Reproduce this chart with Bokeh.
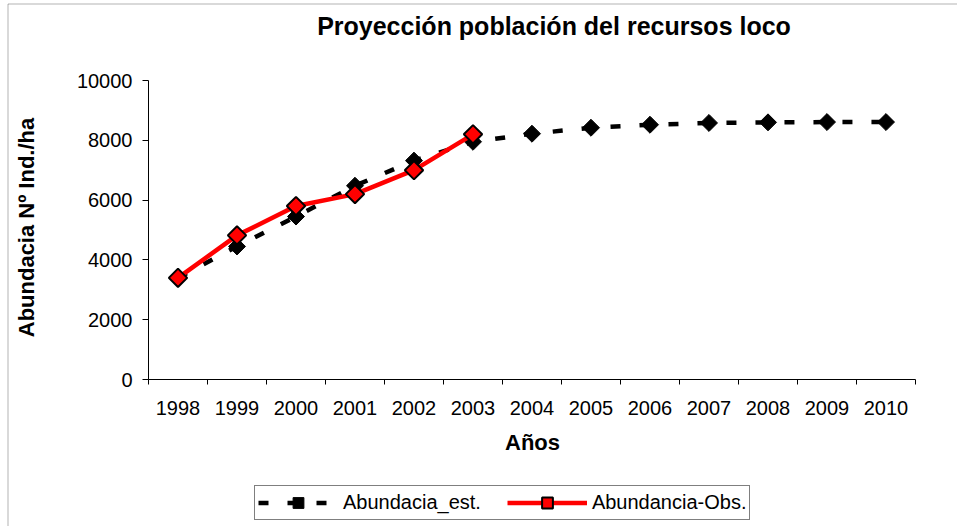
import numpy as np
from bokeh.plotting import figure
from bokeh.models import Range1d, FixedTicker, Legend, LegendItem, Label, BoxAnnotation
from bokeh.embed import file_html
from bokeh.resources import INLINE

# ---- data ----
years = [1998, 1999, 2000, 2001, 2002, 2003, 2004, 2005, 2006, 2007, 2008, 2009, 2010]
year_labels = ["1998", "1999", "2000", "2001", "2002", "2003", "2004",
               "2005", "2006", "2007", "2008", "2009", "2010"]
est_values = [3400, 4450, 5450, 6480, 7320, 7950, 8220, 8420, 8520, 8580, 8600, 8610, 8610]
obs_years = [1998, 1999, 2000, 2001, 2002, 2003]
obs_values = [3400, 4820, 5800, 6200, 7000, 8200]
y_ticks = [0, 2000, 4000, 6000, 8000, 10000]
title_text = "Proyección población del recursos loco"
x_title = "Años"
y_title = "Abundacia Nº Ind./ha"
est_name = "Abundacia_est."
obs_name = "Abundancia-Obs."

FONT = "Liberation Sans"
W, H = 957, 526
# plot-area placement in canvas pixels
PL, PR, PT, PB = 148, 915, 80, 379

X0, X1 = years[0] - 0.5, years[-1] + 0.5
Y0, Y1 = y_ticks[0], y_ticks[-1]
xs = (PR - PL) / (X1 - X0)
ys = (PB - PT) / (Y1 - Y0)
x_range = Range1d(X0 - PL / xs, X1 + (W - PR) / xs)
y_range = Range1d(Y0 - (H - PB) / ys, Y1 + PT / ys)


def px_x(px):
    return x_range.start + px / xs


def px_y(py):
    return y_range.end - py / ys


p = figure(width=W, height=H, output_backend="svg", toolbar_location=None,
           x_range=x_range, y_range=y_range, min_border=0,
           min_border_left=0, min_border_right=0, min_border_top=0, min_border_bottom=0)
p.outline_line_color = None
p.grid.visible = False
p.background_fill_color = "white"
p.border_fill_color = "white"

xa = p.below[0]
ya = p.left[0]

# x axis: labels at category centres, tick marks at boundaries
xa.fixed_location = Y0
xa.bounds = (X0, X1)
xa.ticker = FixedTicker(ticks=years, minor_ticks=[y - 0.5 for y in years] + [years[-1] + 0.5])
xa.major_label_overrides = {y: l for y, l in zip(years, year_labels)}
xa.major_tick_out = 0
xa.major_tick_in = 0
xa.minor_tick_out = 5
xa.minor_tick_in = 0
xa.minor_tick_line_color = "black"
xa.axis_line_color = "black"
xa.major_label_standoff = 16
xa.major_label_text_font = FONT
xa.major_label_text_font_size = "20px"
xa.major_label_text_color = "black"

ya.fixed_location = X0
ya.bounds = (Y0, Y1)
ya.ticker = FixedTicker(ticks=y_ticks)
ya.major_tick_out = 6
ya.major_tick_in = 0
ya.minor_tick_out = 0
ya.minor_tick_in = 0
ya.major_tick_line_color = "black"
ya.axis_line_color = "black"
ya.major_label_standoff = 10
ya.major_label_text_font = FONT
ya.major_label_text_font_size = "20px"
ya.major_label_text_color = "black"

# chart border (left and top edges visible in the reference)
p.add_layout(BoxAnnotation(left=px_x(7.5), top=px_y(3.5), right=px_x(W + 20), bottom=px_y(H + 20),
                           fill_alpha=0, line_color="black", line_width=1))

# series
r_est_line = p.line(years, est_values, line_color="black", line_width=4.5, line_dash="10 19")
r_est_mk = p.scatter(years, est_values, marker="square", angle=np.pi / 4, size=12,
                     fill_color="black", line_color="black", line_width=1)
r_obs_line = p.line(obs_years, obs_values, line_color="red", line_width=4.5)
r_obs_mk = p.scatter(obs_years, obs_values, marker="square", angle=np.pi / 4, size=13,
                     fill_color="red", line_color="black", line_width=2)

# titles
p.add_layout(Label(x=px_x(553.5), y=px_y(25), text=title_text, text_font=FONT,
                   text_font_size="25px", text_font_style="bold", text_color="black",
                   text_align="center", text_baseline="alphabetic"))
p.add_layout(Label(x=px_x(532), y=px_y(442), text=x_title, text_font=FONT,
                   text_font_size="22px", text_font_style="bold", text_color="black",
                   text_align="center", text_baseline="alphabetic"))
p.add_layout(Label(x=px_x(26), y=px_y(227), text=y_title, text_font=FONT, angle=np.pi / 2,
                   text_font_size="22px", text_font_style="bold", text_color="black",
                   text_align="center", text_baseline="alphabetic"))

legend = Legend(items=[LegendItem(label=est_name, renderers=[r_est_line, r_est_mk]),
                       LegendItem(label=obs_name, renderers=[r_obs_line, r_obs_mk])],
                orientation="horizontal", location=(254, H - 520),
                glyph_width=80, glyph_height=27, label_standoff=5, spacing=26,
                padding=3, margin=0,
                label_text_font=FONT, label_text_font_size="20px", label_text_color="black",
                border_line_color="black", border_line_width=1,
                background_fill_color="white", background_fill_alpha=1)
p.add_layout(legend)

open("out.html", "w").write(file_html(p, INLINE))
